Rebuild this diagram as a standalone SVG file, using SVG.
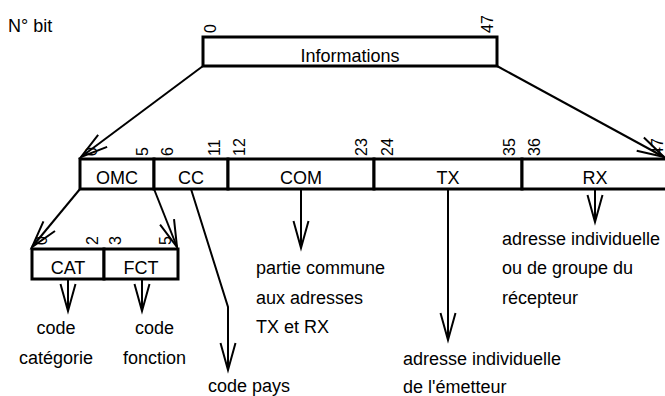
<svg xmlns="http://www.w3.org/2000/svg" width="665" height="396" viewBox="0 0 665 396">
<style>
.box{fill:#fff;stroke:#000;stroke-width:3}
.t{font-family:"Liberation Sans",Arial,sans-serif;font-size:18px;fill:#000}
.c{text-anchor:middle}
.n{font-family:"Liberation Sans",Arial,sans-serif;font-size:16px;fill:#000}
.ln{fill:none;stroke:#000;stroke-width:2}
</style>
<defs>
<marker id="ah" markerUnits="userSpaceOnUse" markerWidth="40" markerHeight="24" viewBox="-30 -12 34 24" refX="0" refY="0" orient="auto" overflow="visible">
<path d="M-27,-7.5 L0,0 L-27,7.5" fill="none" stroke="#000" stroke-width="2"/>
</marker>
</defs>
<rect width="665" height="396" fill="#fff"/>
<text class="t" x="8" y="32">N° bit</text>

<g id="connectors">
<path class="ln" d="M203,66 L81,157" marker-end="url(#ah)"/>
<path class="ln" d="M497,66 L664,157" marker-end="url(#ah)"/>
<path class="ln" d="M80,189 L32,247" marker-end="url(#ah)"/>
<path class="ln" d="M154,189 L177,247" marker-end="url(#ah)"/>
<path class="ln" d="M191,189 L228,307 L228,370" marker-end="url(#ah)"/>
<path class="ln" d="M301,189 L301,248" marker-end="url(#ah)"/>
<path class="ln" d="M448,189 L448,340" marker-end="url(#ah)"/>
<path class="ln" d="M595,189 L595,222" marker-end="url(#ah)"/>
<path class="ln" d="M68,279 L68,311" marker-end="url(#ah)"/>
<path class="ln" d="M142,279 L142,311" marker-end="url(#ah)"/>
</g>

<g id="informations">
<rect class="box" x="203" y="37" width="294" height="29"/>
<text class="t c" x="350" y="62">Informations</text>
<text class="n" transform="translate(216,33) rotate(-90)">0</text>
<text class="n" transform="translate(493,33) rotate(-90)">47</text>
</g>

<g id="omc">
<rect class="box" x="80" y="159" width="74" height="30"/>
<text class="t c" x="117" y="184">OMC</text>
<text class="n" transform="translate(97,156) rotate(-90)">0</text>
<text class="n" transform="translate(148,156) rotate(-90)">5</text>
</g>
<g id="cc">
<rect class="box" x="154" y="159" width="74" height="30"/>
<text class="t c" x="191" y="184">CC</text>
<text class="n" transform="translate(173,156) rotate(-90)">6</text>
<text class="n" transform="translate(220,156) rotate(-90)">11</text>
</g>
<g id="com">
<rect class="box" x="228" y="159" width="146" height="30"/>
<text class="t c" x="301" y="184">COM</text>
<text class="n" transform="translate(245,156) rotate(-90)">12</text>
<text class="n" transform="translate(367,156) rotate(-90)">23</text>
</g>
<g id="tx">
<rect class="box" x="374" y="159" width="148" height="30"/>
<text class="t c" x="448" y="184">TX</text>
<text class="n" transform="translate(393,156) rotate(-90)">24</text>
<text class="n" transform="translate(515,156) rotate(-90)">35</text>
</g>
<g id="rx">
<rect class="box" x="522" y="159" width="150" height="30"/>
<text class="t c" x="595" y="184">RX</text>
<text class="n" transform="translate(540,156) rotate(-90)">36</text>
<text class="n" transform="translate(663,156) rotate(-90)">47</text>
</g>

<g id="cat">
<rect class="box" x="32" y="249" width="72" height="30"/>
<text class="t c" x="68" y="274">CAT</text>
<text class="n" transform="translate(47,245) rotate(-90)">0</text>
<text class="n" transform="translate(98,245) rotate(-90)">2</text>
</g>
<g id="fct">
<rect class="box" x="104" y="249" width="74" height="30"/>
<text class="t c" x="141" y="274">FCT</text>
<text class="n" transform="translate(121,245) rotate(-90)">3</text>
<text class="n" transform="translate(171,245) rotate(-90)">5</text>
</g>

<g id="desc-cat">
<text class="t c" x="56" y="334">code</text>
<text class="t c" x="56" y="364">catégorie</text>
</g>
<g id="desc-fct">
<text class="t c" x="154.5" y="334">code</text>
<text class="t c" x="154.5" y="364">fonction</text>
</g>
<g id="desc-cc">
<text class="t" x="208" y="392">code pays</text>
</g>
<g id="desc-com">
<text class="t" x="256" y="274">partie commune</text>
<text class="t" x="256" y="304">aux adresses</text>
<text class="t" x="256" y="333">TX et RX</text>
</g>
<g id="desc-tx">
<text class="t" x="403" y="365">adresse individuelle</text>
<text class="t" x="403" y="393">de l'émetteur</text>
</g>
<g id="desc-rx">
<text class="t" x="502" y="245">adresse individuelle</text>
<text class="t" x="502" y="274">ou de groupe du</text>
<text class="t" x="502" y="304">récepteur</text>
</g>
</svg>
